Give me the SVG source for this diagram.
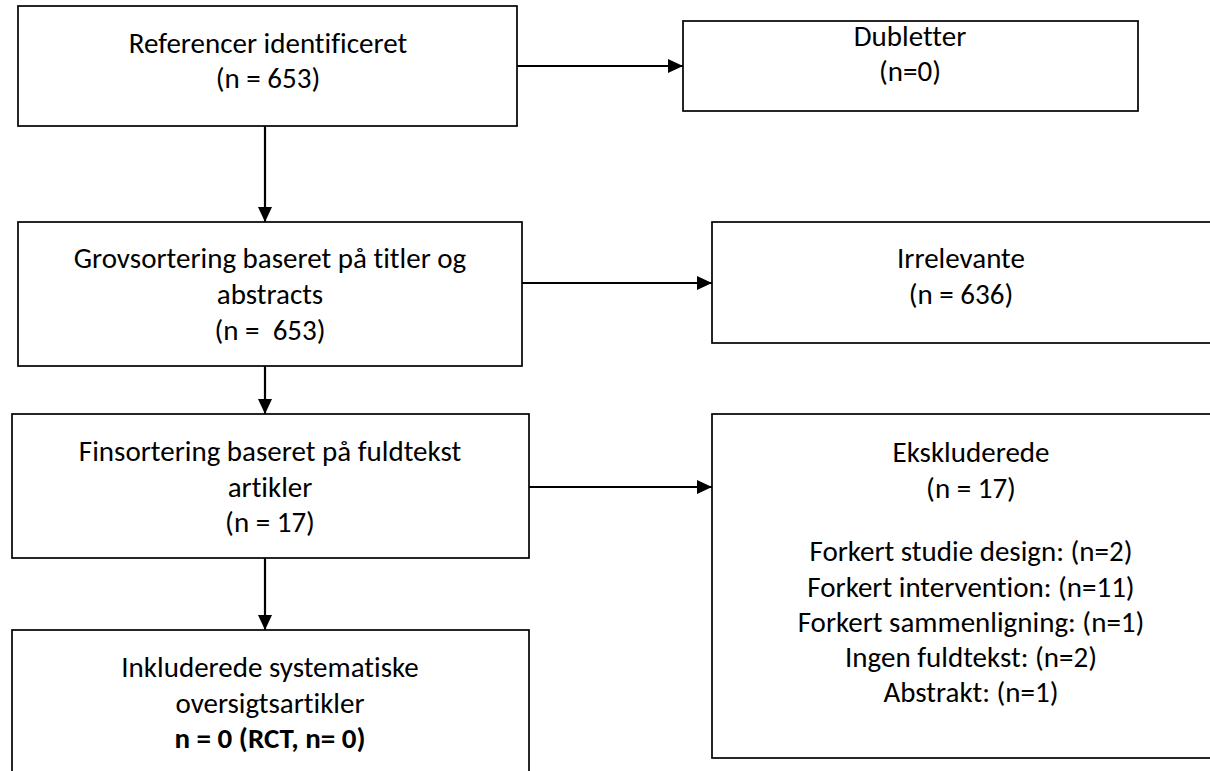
<svg xmlns="http://www.w3.org/2000/svg" width="1210" height="771" viewBox="0 0 1210 771">
<style>
.box{fill:#fff;stroke:#000;stroke-width:1.7}
.t{font-family:Carlito,Calibri,Lato,"Liberation Sans",sans-serif;font-size:29px;fill:#000;text-anchor:middle;font-variant-ligatures:none;font-feature-settings:"liga" 0}
.b{font-weight:bold}
.c{stroke:#000;stroke-width:2.2;fill:none;marker-end:url(#ah)}
</style>
<defs>
<marker id="ah" markerUnits="userSpaceOnUse" markerWidth="16" markerHeight="16" viewBox="0 0 16 16" refX="15" refY="7" orient="auto">
<path d="M0,0 L15,7 L0,14 Z" fill="#000"/>
</marker>
</defs>
<rect width="1210" height="771" fill="#fff"/>
<g id="connectors">
<line class="c" x1="265" y1="126" x2="265" y2="222"/>
<line class="c" x1="517" y1="66" x2="683" y2="66"/>
<line class="c" x1="265" y1="366" x2="265" y2="414"/>
<line class="c" x1="522" y1="283" x2="712" y2="283"/>
<line class="c" x1="265" y1="558" x2="265" y2="630"/>
<line class="c" x1="529" y1="487" x2="712" y2="487"/>
</g>
<g id="n1">
<rect class="box" x="18" y="6" width="499" height="120"/>
<text class="t" x="268" y="53">Referencer identificeret</text>
<text class="t" x="268" y="88">(n = 653)</text>
</g>
<g id="n2">
<rect class="box" x="683" y="21" width="455" height="90"/>
<text class="t" x="910" y="46">Dubletter</text>
<text class="t" x="910" y="81">(n=0)</text>
</g>
<g id="n3">
<rect class="box" x="18" y="222" width="504" height="144"/>
<text class="t" x="270" y="268">Grovsortering baseret på titler og</text>
<text class="t" x="270" y="304">abstracts</text>
<text class="t" x="270" y="340" xml:space="preserve">(n =  653)</text>
</g>
<g id="n4">
<rect class="box" x="712" y="222" width="500" height="121"/>
<text class="t" x="961" y="268">Irrelevante</text>
<text class="t" x="961" y="304">(n = 636)</text>
</g>
<g id="n5">
<rect class="box" x="12" y="414" width="517" height="144"/>
<text class="t" x="270" y="461">Finsortering baseret på fuldtekst</text>
<text class="t" x="270" y="497">artikler</text>
<text class="t" x="270" y="532">(n = 17)</text>
</g>
<g id="n6">
<rect class="box" x="712" y="414" width="520" height="344"/>
<text class="t" x="971" y="462">Ekskluderede</text>
<text class="t" x="971" y="498">(n = 17)</text>
<text class="t" x="971" y="561">Forkert studie design: (n=2)</text>
<text class="t" x="971" y="597">Forkert intervention: (n=11)</text>
<text class="t" x="971" y="632">Forkert sammenligning: (n=1)</text>
<text class="t" x="971" y="667">Ingen fuldtekst: (n=2)</text>
<text class="t" x="971" y="702">Abstrakt: (n=1)</text>
</g>
<g id="n7">
<rect class="box" x="12" y="630" width="517" height="160"/>
<text class="t" x="270" y="677">Inkluderede systematiske</text>
<text class="t" x="270" y="713">oversigtsartikler</text>
<text class="t b" x="270" y="748">n = 0 (RCT, n= 0)</text>
</g>
</svg>
